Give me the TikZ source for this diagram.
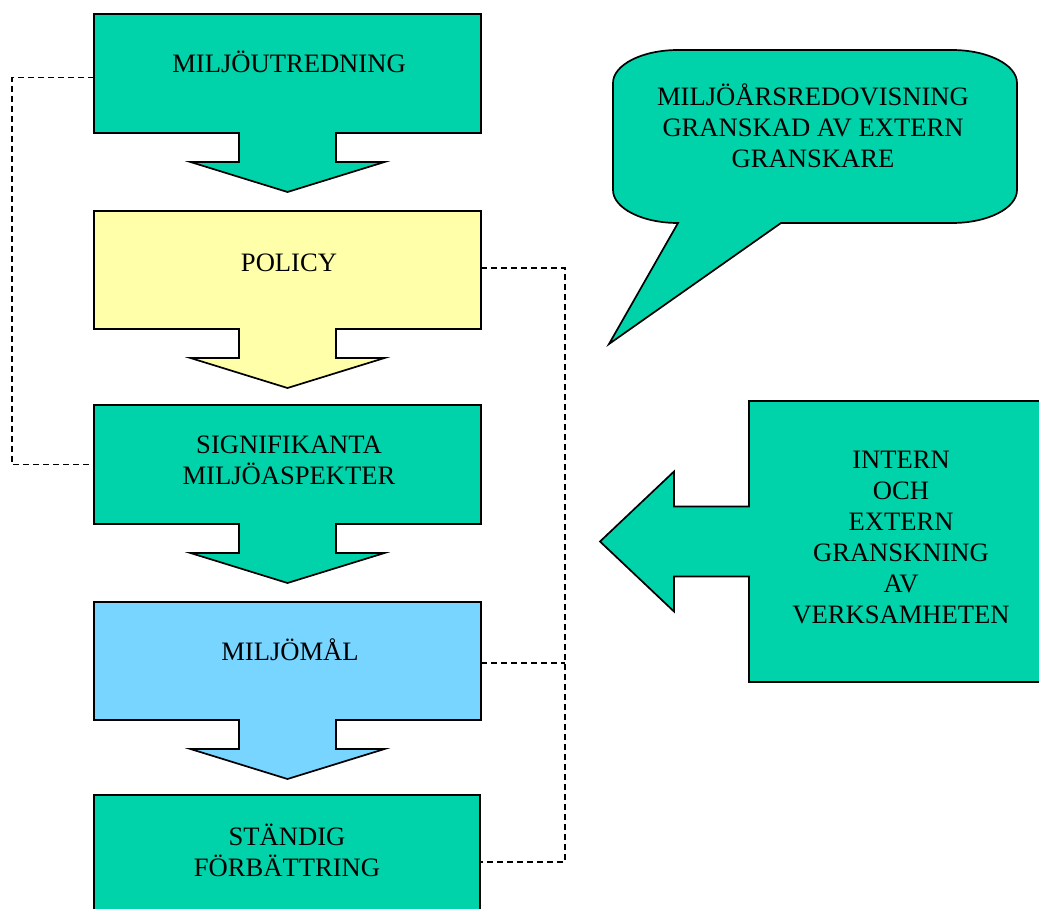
\documentclass[tikz,border=0pt]{standalone}
\usepackage{fontspec}
\setmainfont{Liberation Serif}
\usetikzlibrary{calc}
\definecolor{teal}{RGB}{0,210,170}
\definecolor{paleyellow}{RGB}{255,255,170}
\definecolor{lightblue}{RGB}{119,213,255}
\tikzset{
  shapeline/.style={draw=black, line width=1.7pt, line join=miter},
  dashline/.style={draw=black, line width=1.3pt, dash pattern=on 6pt off 4pt},
  body/.style={inner sep=0pt, outer sep=0pt, minimum width=387pt},
  txt/.style={font=\fontsize{26.6}{31}\selectfont, align=center, inner sep=0pt, anchor=base},
}
\newcommand\dnarrowshape[2]{%
  \draw[shapeline, fill=#2] (#1.north west) -- (#1.north east) -- (#1.south east)
    -- ($(#1.south)+(48.5,0)$) -- ++(0,29) -- ++(48.5,0)
    -- ($(#1.south)+(0,59)$) -- ($(#1.south)+(-97,29)$) -- ++(48.5,0)
    -- ++(0,-29) -- (#1.south west) -- cycle;}
\begin{document}
\begin{tikzpicture}[x=1pt, y=-1pt]
\clip (0,0) rectangle (1039,908);
\fill[white] (0,0) rectangle (1039,908);
% box bodies
\node[body, minimum height=119pt] (b1) at (287.5,73.5) {};
\node[body, minimum height=118pt] (b2) at (287.5,270) {};
\node[body, minimum height=119pt] (b3) at (287.5,464.5) {};
\node[body, minimum height=118pt] (b4) at (287.5,661) {};
\node[body, minimum width=386pt, minimum height=134pt] (b5) at (287,862) {};
\node[inner sep=0pt, outer sep=0pt, minimum width=304pt, minimum height=281pt] (r1) at (901,541.5) {};
% shapes
\dnarrowshape{b1}{teal}
\dnarrowshape{b2}{paleyellow}
\dnarrowshape{b3}{teal}
\dnarrowshape{b4}{lightblue}
\draw[shapeline, fill=teal] (b5.north west) rectangle (b5.south east);
\draw[shapeline, fill=teal] (r1.north west) -- (r1.north east) -- (r1.south east) -- (r1.south west)
  -- ($(r1.west)+(0,35)$) -- ++(-75,0) -- ++(0,35) -- ($(r1.west)+(-149,0)$)
  -- ($(r1.west)+(-75,-70)$) -- ++(0,35) -- ($(r1.west)+(0,-35)$) -- cycle;
% callout
\draw[shapeline, fill=teal] (613,83) .. controls (613,64.8) and (642.1,50) .. (678,50)
  -- (952,50) .. controls (987.9,50) and (1017,64.8) .. (1017,83)
  -- (1017,190) .. controls (1017,208.2) and (987.9,223) .. (952,223)
  -- (781,223) -- (609,344) -- (678,223)
  .. controls (642.1,223) and (613,208.2) .. (613,190) -- cycle;
% texts (base anchor = baseline of last line)
\node[txt] (t1) at (289,72.6) {MILJÖUTREDNING};
\node[txt] (t2) at (289,271) {POLICY};
\node[txt] (t3) at (289,484) {SIGNIFIKANTA\\MILJÖASPEKTER};
\node[txt] (t4) at (290,660) {MILJÖMÅL};
\node[txt] (t5) at (287,876) {STÄNDIG\\FÖRBÄTTRING};
\node[txt] (tc) at (813,167) {MILJÖÅRSREDOVISNING\\GRANSKAD AV EXTERN\\GRANSKARE};
\node[txt] (tr) at (901,623) {INTERN\\OCH\\EXTERN\\GRANSKNING\\AV\\VERKSAMHETEN};
% dashed connectors
\draw[dashline] ([yshift=-4pt]b1.west) -- ++(-82,0) |- (b3.west);
\draw[dashline] ([yshift=2pt]b2.east) -- ++(84,0) coordinate (rc) |- (b5.east);
\draw[dashline] ([yshift=-2pt]b4.east) -- ++(84,0);
\end{tikzpicture}
\end{document}
